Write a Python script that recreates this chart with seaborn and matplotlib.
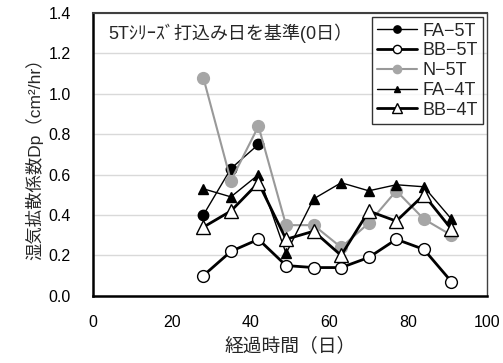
import matplotlib
matplotlib.use("Agg")
import matplotlib.pyplot as plt
import seaborn as sns
import pandas as pd

sns.set_theme(style="white")
plt.rcParams["font.family"] = ["Liberation Sans", "Noto Sans CJK JP", "DejaVu Sans"]

days = [28, 35, 42, 49, 56, 63, 70, 77, 84, 91]
fa_5t = [0.40, 0.63, 0.75]
bb_5t = [0.10, 0.22, 0.28, 0.15, 0.14, 0.14, 0.19, 0.28, 0.23, 0.07]
n_5t = [1.08, 0.57, 0.84, 0.35, 0.35, 0.24, 0.36, 0.52, 0.38, 0.30]
fa_4t = [0.53, 0.49, 0.60, 0.21, 0.48, 0.56, 0.52, 0.55, 0.54, 0.38]
bb_4t = [0.34, 0.42, 0.56, 0.28, 0.32, 0.20, 0.42, 0.37, 0.50, 0.33]

series = [
    ("FA−5T", fa_5t, dict(color="black", lw=1.0, marker="o", ms=7.5, mfc="black", mec="black", mew=1.0)),
    ("BB−5T", bb_5t, dict(color="black", lw=2.0, marker="o", ms=8.5, mfc="white", mec="black", mew=1.0)),
    ("N−5T", n_5t, dict(color="#999999", lw=1.5, marker="o", ms=8.5, mfc="#a6a6a6", mec="#a6a6a6", mew=1.0)),
    ("FA−4T", fa_4t, dict(color="black", lw=1.0, marker="^", ms=6.5, mfc="black", mec="black", mew=1.0)),
    ("BB−4T", bb_4t, dict(color="black", lw=2.0, marker="^", ms=9.5, mfc="white", mec="black", mew=1.0)),
]

fig = plt.figure(figsize=(5.03, 3.63), dpi=100)
ax = fig.add_axes([0.185, 0.185, 0.783, 0.779])

for label, vals, style in series:
    df = pd.DataFrame({"day": days[:len(vals)], "dp": vals})
    sns.lineplot(data=df, x="day", y="dp", ax=ax, label=label, legend=False,
                 markeredgewidth=style["mew"],
                 **{k: v for k, v in style.items() if k != "mew"})

ax.set_xlim(0, 100)
ax.set_ylim(0, 1.4)
ax.set_xticks([0, 20, 40, 60, 80, 100])
ax.set_yticks([0.0, 0.2, 0.4, 0.6, 0.8, 1.0, 1.2, 1.4])
ax.set_yticklabels([f"{v:.1f}" for v in ax.get_yticks()])
ax.yaxis.grid(True, color="#d9d9d9", lw=1.0)
ax.set_axisbelow(True)

ax.tick_params(axis="both", direction="in", length=4, width=1, colors="black",
               labelsize=11.5)
ax.tick_params(axis="y", pad=16)
ax.tick_params(axis="x", pad=14)

for side in ["left", "bottom"]:
    ax.spines[side].set_color("black")
    ax.spines[side].set_linewidth(1.8)
ax.spines["top"].set_color("#404040")
ax.spines["top"].set_linewidth(1.5)
ax.spines["right"].set_color("#404040")
ax.spines["right"].set_linewidth(1.0)

ax.set_xlabel("経過時間（日）", fontsize=13.5, labelpad=5)
ax.set_ylabel("湿気拡散係数Dp（cm²/hr）", fontsize=12.5, labelpad=4)

ax.text(0.04, 0.929, "5Tｼﾘｰｽﾞ打込み日を基準(0日）", transform=ax.transAxes,
        fontsize=13, va="center", ha="left")

handles, labels = ax.get_legend_handles_labels()
leg = ax.legend(handles, labels, loc="upper right", bbox_to_anchor=(0.99, 0.985),
                prop={"size": 13},
                frameon=True, fancybox=False, edgecolor="black", markerscale=0.7,
                handlelength=2.2, handletextpad=0.3, labelspacing=0.15,
                borderpad=0.3, borderaxespad=0.0)
leg.get_frame().set_linewidth(1.0)

fig.savefig("out.png", dpi=100)
